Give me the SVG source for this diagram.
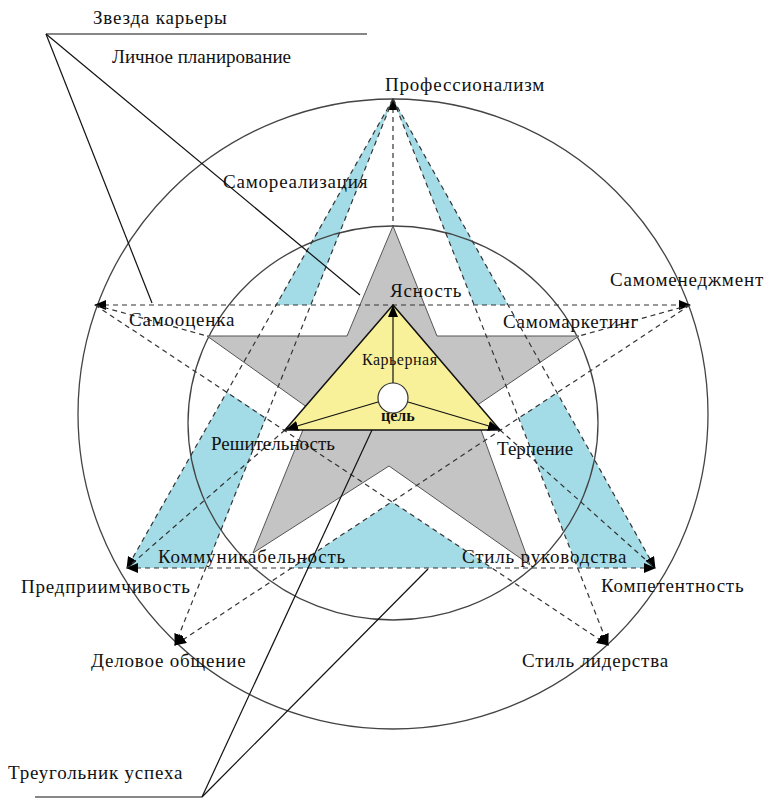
<svg xmlns="http://www.w3.org/2000/svg" width="771" height="798" viewBox="0 0 771 798">
<style>
.lbl{font-family:"Liberation Serif","Times New Roman",serif;font-size:19px;letter-spacing:0.8px;fill:#111}
.tight{letter-spacing:0}
.small{font-family:"Liberation Serif","Times New Roman",serif;font-size:16px;letter-spacing:0.5px;fill:#111}
.dash{fill:none;stroke:#333;stroke-width:1.2;stroke-dasharray:5 4}
.solid{fill:none;stroke:#111;stroke-width:1.2}
.ring{fill:none;stroke:#444;stroke-width:1.3}
.cyan{fill:#a3dbe6;stroke:none}
</style>
<defs>
<marker id="arr" markerUnits="userSpaceOnUse" markerWidth="14" markerHeight="12" refX="11" refY="5" orient="auto-start-reverse" viewBox="0 0 14 12">
<path d="M0,0 L12,5 L0,10 z" fill="#000"/>
</marker>
</defs>
<rect width="771" height="798" fill="#fff"/>

<g id="cyan-star">
<polygon class="cyan" points="393,99 276,305 311,305"/>
<polygon class="cyan" points="393,99 474,305 508,305"/>
<polygon class="cyan" points="227,392 266,418 206,568 127,568"/>
<polygon class="cyan" points="557,393 519,418 578,568 655,568"/>
<polygon class="cyan" points="392,502 292,568 492,568"/>
</g>

<g id="outer-circle"><circle class="ring" cx="393" cy="414" r="315"/></g>
<g id="inner-circle"><ellipse class="ring" cx="393" cy="423" rx="205" ry="197"/></g>

<g id="gray-star">
<polygon points="393,226 437,336 579,336 473,408 530,565 389,466 253,553 311,410 207,336 347,336" fill="#c4c4c4" stroke="#555" stroke-width="1"/>
</g>

<g id="connectors">
<path class="dash" d="M95,305 H690" marker-start="url(#arr)" marker-end="url(#arr)"/>
<path class="dash" d="M127,568 H655" marker-start="url(#arr)" marker-end="url(#arr)"/>
<path class="dash" d="M393,99 V226" marker-start="url(#arr)"/>
<path class="dash" d="M393,99 L127,568" marker-end="url(#arr)"/>
<path class="dash" d="M393,99 L175,645" marker-end="url(#arr)"/>
<path class="dash" d="M393,99 L655,568" marker-end="url(#arr)"/>
<path class="dash" d="M393,99 L608,645" marker-end="url(#arr)"/>
<path class="dash" d="M95,305 L608,645" marker-end="url(#arr)"/>
<path class="dash" d="M690,305 L175,645" marker-end="url(#arr)"/>
<path class="dash" d="M285,430 L127,568"/>
<path class="dash" d="M500,430 L655,568"/>
<path class="dash" d="M95,305 L207,336"/>
<path class="dash" d="M690,305 L579,336"/>
</g>

<g id="triangle">
<polygon points="393,305 285,430 500,430" fill="#f8f19a" stroke="#111" stroke-width="1.5"/>
</g>

<g id="goal">
<circle cx="393" cy="398" r="15" fill="#fff" stroke="#333" stroke-width="1.2"/>
<path class="solid" d="M393,383 V306" marker-end="url(#arr)"/>
<path class="solid" d="M378,402 L287,429" marker-end="url(#arr)"/>
<path class="solid" d="M408,402 L499,429" marker-end="url(#arr)"/>
</g>

<g id="callouts">
<path class="solid" d="M46,34 H367"/>
<path class="solid" d="M46,34 L152,303"/>
<path class="solid" d="M46,34 L360,295"/>
<path class="solid" d="M35,797 H202"/>
<path class="solid" d="M202,797 L372,430"/>
<path class="solid" d="M202,797 L428,569"/>
</g>

<g id="label-star"><text class="lbl" x="93" y="24">Звезда карьеры</text></g>
<g id="label-planning"><text class="lbl tight" x="112" y="63">Личное планирование</text></g>
<g id="label-prof"><text class="lbl" x="385" y="91">Профессионализм</text></g>
<g id="label-selfreal"><text class="lbl" x="223" y="188">Самореализация</text></g>
<g id="label-clarity"><text class="lbl" x="390" y="297">Ясность</text></g>
<g id="label-selfmgmt"><text class="lbl" x="610" y="286">Самоменеджмент</text></g>
<g id="label-selfest"><text class="lbl" x="129" y="326">Самооценка</text></g>
<g id="label-selfmkt"><text class="lbl" x="503" y="328">Самомаркетинг</text></g>
<g id="label-career"><text class="small" x="362" y="365">Карьерная</text></g>
<g id="label-goal"><text class="small" x="381" y="421" font-weight="bold" style="letter-spacing:0">цель</text></g>
<g id="label-resolve"><text class="lbl tight" x="211" y="450">Решительность</text></g>
<g id="label-patience"><text class="lbl tight" x="497" y="455">Терпение</text></g>
<g id="label-comm"><text class="lbl" x="158" y="563">Коммуникабельность</text></g>
<g id="label-mgmtstyle"><text class="lbl" x="462" y="563">Стиль руководства</text></g>
<g id="label-enterprise"><text class="lbl" x="21" y="593">Предприимчивость</text></g>
<g id="label-competence"><text class="lbl" x="601" y="592">Компетентность</text></g>
<g id="label-business"><text class="lbl" x="91" y="667">Деловое общение</text></g>
<g id="label-leadstyle"><text class="lbl" x="522" y="667">Стиль лидерства</text></g>
<g id="label-success"><text class="lbl" x="8" y="779">Треугольник успеха</text></g>
</svg>
